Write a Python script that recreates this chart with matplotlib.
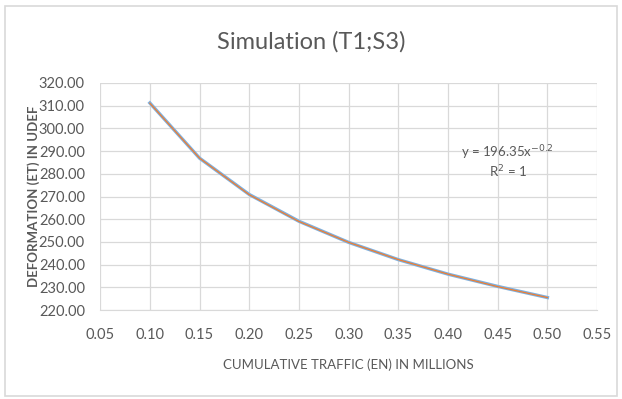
import matplotlib.pyplot as plt
from matplotlib.patches import Rectangle

plt.rcParams['font.family'] = ['Lato', 'DejaVu Sans']

# cumulative traffic (millions) and deformation values
traffic = [0.10, 0.15, 0.20, 0.25, 0.30, 0.35, 0.40, 0.45, 0.50]
deformation = [311.2, 286.9, 270.9, 259.1, 249.8, 242.2, 235.8, 230.4, 225.5]
# power trendline values at the same points
trend = [311.1, 286.9, 270.8, 259.0, 249.8, 242.2, 235.8, 230.3, 225.5]

xticks = [0.05, 0.10, 0.15, 0.20, 0.25, 0.30, 0.35, 0.40, 0.45, 0.50, 0.55]
yticks = [220, 230, 240, 250, 260, 270, 280, 290, 300, 310, 320]

grey = '#595959'

fig = plt.figure(figsize=(6.22, 3.99), dpi=100)
ax = fig.add_axes([0.161, 0.223, 0.799, 0.569])

ax.plot(traffic, deformation, color='#7FB0DE', lw=2.4, zorder=3)
ax.plot(traffic, trend, color='#ED7D31', lw=0.9, zorder=4)

ax.set_xlim(0.05, 0.55)
ax.set_ylim(220, 320)
ax.set_xticks(xticks)
ax.set_yticks(yticks)
ax.set_xticklabels([f'{v:.2f}' for v in xticks])
ax.set_yticklabels([f'{v:.2f}' for v in yticks])
ax.tick_params(length=0, labelsize=10.5, colors=grey)
ax.tick_params(axis='y', pad=11)
ax.tick_params(axis='x', pad=13)
ax.grid(True, color='#D9D9D9', lw=0.9)
ax.set_axisbelow(True)
for s in ['top', 'right', 'left']:
    ax.spines[s].set_visible(False)
ax.spines['bottom'].set_color('#D9D9D9')

ax.set_xlabel('CUMULATIVE TRAFFIC (EN) IN MILLIONS', fontsize=9.5, color=grey, labelpad=12)
ax.set_ylabel('DEFORMATION (ET) IN UDEF', fontsize=9.5, color=grey, fontweight='bold')
ax.yaxis.set_label_coords(-0.121, 0.5)

fig.text(0.5, 0.895, 'Simulation (T1;S3)', ha='center', va='center', fontsize=17, color=grey)

ax.text(0.46, 289.5, r'y = 196.35x$^{-0.2}$', ha='center', va='center', fontsize=9.5, color=grey)
ax.text(0.46, 281.0, r'R$^{2}$ = 1', ha='center', va='center', fontsize=9.5, color=grey)

fig.patches.append(Rectangle((0.008, 0.008), 0.984, 0.978, transform=fig.transFigure,
                             fill=False, edgecolor='#D9D9D9', lw=1.2))

fig.savefig('out.png', dpi=100)
